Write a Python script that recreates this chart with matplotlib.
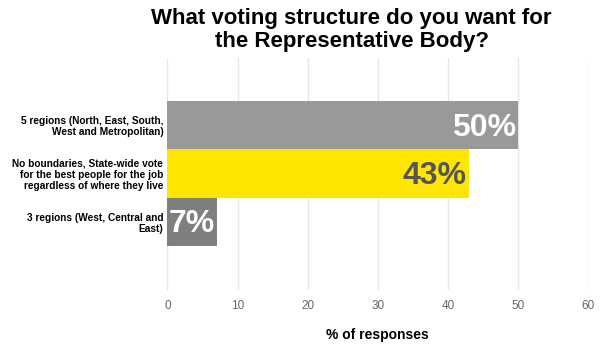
import matplotlib
matplotlib.use("Agg")
import matplotlib.pyplot as plt

categories = ["5 regions (North, East, South,\nWest and Metropolitan)",
              "No boundaries, State-wide vote\nfor the best people for the job\nregardless of where they live",
              "3 regions (West, Central and\nEast)"]
values = [50, 43, 7]
labels = ["50%", "43%", "7%"]
bar_colors = ["#999999", "#FFE600", "#7F7F7F"]
label_colors = ["white", "#555555", "white"]
xticks = [0, 10, 20, 30, 40, 50, 60]

plt.rcParams['font.family'] = ['Liberation Sans', 'DejaVu Sans']
fig = plt.figure(figsize=(6.01, 3.47), dpi=100)
ax = fig.add_axes([167.5/601, 1-290/347, (588-167.5)/601, (290-58)/347])

y = list(range(len(categories)))
ax.barh(y, values, height=1.0, color=bar_colors, zorder=2)
for yi, v, lab, c in zip(y, values, labels, label_colors):
    ax.text(v - 0.3, yi + 0.05, lab, ha='right', va='center', fontsize=23,
            fontweight='bold', color=c, zorder=3)

ax.set_xlim(0, 60)
ax.set_ylim(2.5 + 0.91, -0.5 - 0.89)
ax.set_xticks(xticks)
ax.set_xticklabels([str(t) for t in xticks], color='#666666', fontsize=8.5)
ax.set_yticks(y)
ax.set_yticklabels(categories, fontsize=7.3, fontweight='bold', ha='right',
                   linespacing=1.15)
ax.tick_params(axis='both', length=0)
ax.tick_params(axis='x', pad=7)
ax.tick_params(axis='y', pad=3)
for s in ax.spines.values():
    s.set_visible(False)
ax.grid(axis='x', color='#e6e6e6', linewidth=0.9, zorder=0)
ax.set_axisbelow(True)
ax.set_xlabel("% of responses", fontsize=10, fontweight='bold', labelpad=12)

fig.text(0.585, 0.978, "What voting structure do you want for\nthe Representative Body?",
         ha='center', va='top', fontsize=16, fontweight='bold', linespacing=1.12)

fig.savefig("out.png", dpi=100)
